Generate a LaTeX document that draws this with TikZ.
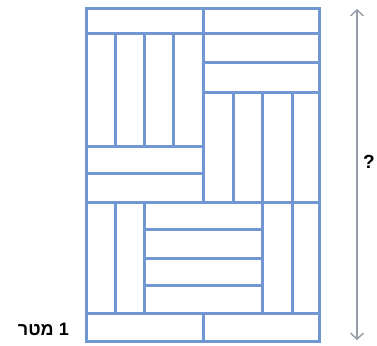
\documentclass[tikz,border=0pt]{standalone}
\usepackage{fontspec}
\setmainfont{Liberation Sans}
\newfontfamily\hebfont[Script=Hebrew]{Liberation Sans}
\TeXXeTstate=1
\usetikzlibrary{arrows.meta}
\definecolor{plank}{RGB}{112,150,212}
\definecolor{dimgray}{RGB}{150,156,168}
\tikzset{
  planks/.style={draw=plank, line width=3pt, line cap=rect},
  dimline/.style={draw=dimgray, line width=1.4pt, {Straight Barb[length=6pt,width=13pt,line width=1.4pt]}-{Straight Barb[length=6pt,width=13pt,line width=1.4pt]}},
  lbl/.style={text=black, inner sep=0pt}
}
\begin{document}
\begin{tikzpicture}[x=1pt,y=-1pt]
\useasboundingbox (0,0) rectangle (377,345);
% outer frame
\draw[planks] (86,9) rectangle (319,341);
% full-width horizontal lines
\draw[planks] (86,34) -- (319,34);
\draw[planks] (86,202) -- (319,202);
\draw[planks] (86,313) -- (319,313);
% middle dividers
\draw[planks] (203,9) -- (203,202);
\draw[planks] (203,313) -- (203,341);
% upper left block
\foreach \x in {115,144,173} \draw[planks] (\x,34) -- (\x,146);
\foreach \y in {146,173} \draw[planks] (86,\y) -- (203,\y);
% upper right block
\foreach \y in {62,92} \draw[planks] (203,\y) -- (319,\y);
\foreach \x in {233,262,292} \draw[planks] (\x,92) -- (\x,202);
% lower block
\foreach \x in {115,144,262,292} \draw[planks] (\x,202) -- (\x,313);
\foreach \y in {229,258,285} \draw[planks] (144,\y) -- (262,\y);
% dimension arrow
\coordinate (top) at (357,9);
\coordinate (bot) at (357,340);
\draw[dimline] (top) -- (bot);
\node[lbl, font=\fontsize{19}{21}\selectfont\bfseries, anchor=center] (q) at (369,162) {?};
\node[lbl, font=\hebfont\fontsize{18}{20}\selectfont\bfseries, anchor=east] (meter) at (69,329) {\beginR 1 מטר\endR};
\end{tikzpicture}
\end{document}
